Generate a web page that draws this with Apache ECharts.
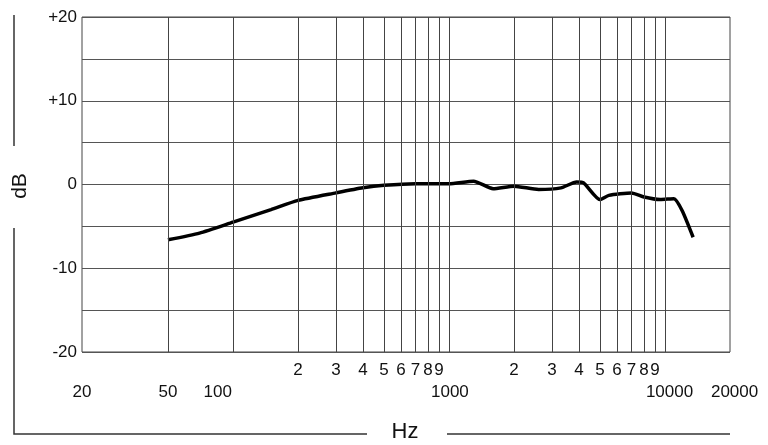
<!DOCTYPE html>
<html>
<head>
<meta charset="utf-8">
<script src="https://cdn.jsdelivr.net/npm/echarts@6/dist/echarts.min.js"></script>
<style>
  html, body { margin: 0; padding: 0; background: #fff; }
  #chart { width: 768px; height: 445px; }
</style>
</head>
<body>
<div id="chart"></div>
<script>
// frequency response
const freqs = [50, 70, 100, 150, 200, 300, 400, 500, 700, 1000, 1300, 1600, 2000, 2600, 3300, 3900, 4200, 5000, 5500, 7000, 8000, 9500, 11000, 12000, 13500];
const dbs = [-6.6, -5.8, -4.5, -3.0, -1.9, -1.0, -0.4, -0.1, 0.1, 0.1, 0.4, -0.5, -0.2, -0.6, -0.4, 0.3, 0.2, -1.8, -1.3, -1.0, -1.5, -1.8, -1.7, -3.1, -6.3];

// vertical grid lines
const gridFreqs = [50, 100, 200, 300, 400, 500, 600, 700, 800, 900, 1000,
  2000, 3000, 4000, 5000, 6000, 7000, 8000, 9000, 10000];
// small tick labels (upper row) and decade labels (lower row)
const minorLabels = [[200, '2'], [300, '3'], [400, '4'], [500, '5'], [600, '6'], [700, '7'], [800, '8'], [900, '9'],
  [2000, '2'], [3000, '3'], [4000, '4'], [5000, '5'], [6000, '6'], [7000, '7'], [8000, '8'], [9000, '9']];
const majorLabels = [[20, '20'], [50, '50'], [85, '100'], [1010, '1000'], [10500, '10000'], [21000, '20000']];
const yTicks = { 20: '+20', 10: '+10', 0: '0', '-10': '-10', '-20': '-20' };

const font = 'Liberation Sans, Arial, sans-serif';
const chart = echarts.init(document.getElementById('chart'));

chart.setOption({
  animation: false,
  grid: { left: 82, right: 38, top: 17, bottom: 93, show: true, borderColor: '#444', borderWidth: 1 },
  xAxis: {
    type: 'log', min: 20, max: 20000, logBase: 10,
    axisLine: { show: false }, axisTick: { show: false },
    axisLabel: { show: false }, splitLine: { show: false },
  },
  yAxis: {
    type: 'value', min: -20, max: 20, interval: 5,
    axisLine: { show: false }, axisTick: { show: false },
    axisLabel: {
      margin: 5, color: '#111', fontSize: 17, fontFamily: font,
      formatter: (v) => yTicks[v] || '',
    },
    splitLine: { lineStyle: { color: '#555', width: 1 } },
  },
  series: [{
    type: 'line',
    data: freqs.map((f, i) => [f, dbs[i]]),
    showSymbol: false,
    smooth: 0.2,
    lineStyle: { color: '#000', width: 3.5 },
    markLine: {
      silent: true, symbol: 'none', label: { show: false },
      lineStyle: { color: '#444', width: 1, type: 'solid' },
      data: gridFreqs.map((f) => ({ xAxis: f })),
    },
  }],
});

// axis text and the dB / Hz brackets
const graphics = [];
const txt = (x, y, t, size) => ({ type: 'text', x, y, style: { text: t, font: size + 'px ' + font, fill: '#111', align: 'center', verticalAlign: 'middle' } });
minorLabels.forEach(([f, t]) => {
  graphics.push(txt(chart.convertToPixel({ xAxisIndex: 0 }, f), 370, t, 17));
});
majorLabels.forEach(([f, t]) => {
  graphics.push(txt(chart.convertToPixel({ xAxisIndex: 0 }, f), 392, t, 17));
});
const dbLabel = txt(20, 186, 'dB', 21);
dbLabel.rotation = Math.PI / 2;
graphics.push(
  dbLabel,
  txt(405, 432, 'Hz', 22),
  { type: 'polyline', shape: { points: [[14, 15], [14, 146]] }, style: { stroke: '#333', lineWidth: 1.5 } },
  { type: 'polyline', shape: { points: [[14, 228], [14, 434], [367, 434]] }, style: { stroke: '#333', lineWidth: 1.5 } },
  { type: 'polyline', shape: { points: [[447, 434], [730, 434]] }, style: { stroke: '#333', lineWidth: 1.5 } },
);
chart.setOption({ graphic: graphics });
</script>
</body>
</html>
